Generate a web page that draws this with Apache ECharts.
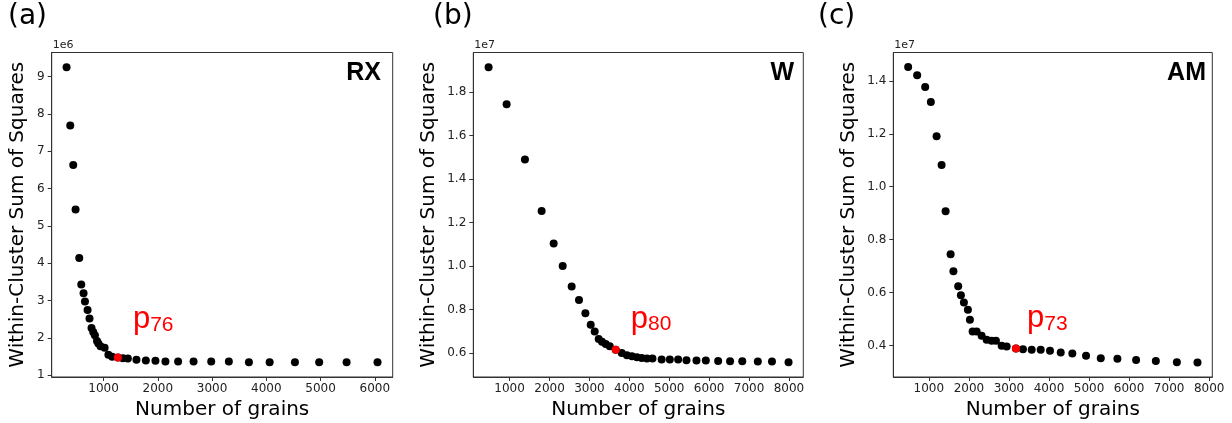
<!DOCTYPE html>
<html>
<head>
<meta charset="utf-8">
<script src="https://cdn.jsdelivr.net/npm/echarts@6/dist/echarts.min.js"></script>
<style>
  html, body { margin: 0; padding: 0; background: #fff; }
  #main { width: 1232px; height: 423px; }
</style>
</head>
<body>
<div id="main"></div>
<script>
// (a) RX  -- y in units of 1e6
var rxGrains = [319, 387, 442, 485, 553, 590, 632, 658, 706, 742, 779, 810, 841, 880, 905, 945, 1020, 1090, 1160, 1265,
    1357, 1449, 1607, 1780, 1957, 2141, 2375, 2660, 2985, 3310, 3680, 4062, 4528, 4975, 5480, 6050];
var rxWcss = [9.25, 7.69, 6.63, 5.44, 4.14, 3.43, 3.20, 2.98, 2.75, 2.52, 2.27, 2.16, 2.07, 1.92, 1.85, 1.78, 1.74, 1.55, 1.50, 1.48,
    1.46, 1.45, 1.42, 1.40, 1.39, 1.37, 1.37, 1.37, 1.37, 1.37, 1.35, 1.35, 1.35, 1.35, 1.35, 1.35];
var rxKnee = 19;

// (b) W  -- y in units of 1e7
var wGrains = [473, 925, 1384, 1803, 2104, 2330, 2555, 2739, 2899, 3032, 3132, 3233, 3316, 3408, 3509, 3659,
    3810, 3940, 4065, 4190, 4310, 4440, 4580, 4810, 5015, 5223, 5432, 5683, 5917, 6226, 6525, 6830, 7220, 7575, 7990];
var wWcss = [1.915, 1.745, 1.490, 1.253, 1.104, 1.000, 0.906, 0.844, 0.783, 0.729, 0.698, 0.664, 0.651, 0.641, 0.630, 0.615,
    0.600, 0.589, 0.584, 0.580, 0.577, 0.574, 0.574, 0.569, 0.569, 0.569, 0.566, 0.565, 0.565, 0.563, 0.561, 0.561, 0.560, 0.560, 0.557];
var wKnee = 15;

// (c) AM  -- y in units of 1e7
var amGrains = [483, 708, 908, 1050, 1193, 1318, 1418, 1543, 1613, 1733, 1800, 1875, 1975, 2025, 2093, 2193, 2318, 2443, 2568, 2675,
    2818, 2943, 3175, 3350, 3568, 3793, 4025, 4293, 4583, 4925, 5293, 5708, 6175, 6668, 7193, 7708];
var amWcss = [1.452, 1.421, 1.377, 1.320, 1.191, 1.082, 0.907, 0.745, 0.681, 0.624, 0.590, 0.562, 0.535, 0.497, 0.453, 0.453, 0.437, 0.422, 0.418, 0.418,
    0.399, 0.396, 0.389, 0.386, 0.384, 0.384, 0.380, 0.374, 0.370, 0.361, 0.352, 0.350, 0.345, 0.341, 0.337, 0.336];
var amKnee = 22;

// tick labels
var rxXTicks = [1000, 2000, 3000, 4000, 5000, 6000];
var rxYTicks = [1, 2, 3, 4, 5, 6, 7, 8, 9];
var wXTicks = [1000, 2000, 3000, 4000, 5000, 6000, 7000, 8000];
var wYTicks = [0.6, 0.8, 1.0, 1.2, 1.4, 1.6, 1.8];
var amXTicks = [1000, 2000, 3000, 4000, 5000, 6000, 7000, 8000];
var amYTicks = [0.4, 0.6, 0.8, 1.0, 1.2, 1.4];

var panelLetters = ['(a)', '(b)', '(c)'];
var panelNames = ['RX', 'W', 'AM'];
var kneeLabels = ['76', '80', '73'];
var offsetTexts = ['1e6', '1e7', '1e7'];

var myChart = echarts.init(document.getElementById('main'), null, {renderer: 'canvas'});

// layout of the three panels (px)
var panels = [
    {left: 51.7, top: 52.5, width: 341, height: 324.5, xMin: 45, xMax: 6330, yMin: 0.955, yMax: 9.645,
        xs: rxGrains, ys: rxWcss, knee: rxKnee, xt: rxXTicks, yt: rxYTicks, dec: 0,
        letterX: 8, nameRight: 381, labelOff: [19, -49], yNameGap: 24},
    {left: 473.3, top: 52.5, width: 330, height: 324.5, xMin: 90, xMax: 8360, yMin: 0.489, yMax: 1.983,
        xs: wGrains, ys: wWcss, knee: wKnee, xt: wXTicks, yt: wYTicks, dec: 1,
        letterX: 433, nameRight: 794, labelOff: [19, -42], yNameGap: 35},
    {left: 893.3, top: 52.5, width: 319, height: 324.5, xMin: 112, xMax: 8078, yMin: 0.281, yMax: 1.507,
        xs: amGrains, ys: amWcss, knee: amKnee, xt: amXTicks, yt: amYTicks, dec: 1,
        letterX: 818, nameRight: 1206, labelOff: [15, -41], yNameGap: 35}
];

var grids = [], xAxes = [], yAxes = [], series = [], graphics = [];
var tickColor = '#222';

panels.forEach(function (p, i) {
    grids.push({left: p.left, top: p.top, width: p.width, height: p.height,
        outerBoundsMode: 'none', containLabel: false,
        show: true, borderColor: '#333', borderWidth: 1, backgroundColor: 'transparent'});

    xAxes.push({
        type: 'value', gridIndex: i, min: p.xMin, max: p.xMax,
        name: 'Number of grains', nameLocation: 'middle', nameGap: 23,
        nameTextStyle: {fontFamily: 'DejaVu Sans', fontSize: 20, color: '#000'},
        axisLine: {show: true, onZero: false, lineStyle: {color: '#333', width: 1}},
        axisTick: {show: true, inside: false, length: 4, lineStyle: {color: '#333'}, customValues: p.xt},
        axisLabel: {show: true, customValues: p.xt, fontFamily: 'DejaVu Sans', fontSize: 12, color: tickColor, margin: 6,
            formatter: function (v) { return String(Math.round(v)); }},
        splitLine: {show: false}
    });

    yAxes.push({
        type: 'value', gridIndex: i, min: p.yMin, max: p.yMax,
        name: 'Within-Cluster Sum of Squares', nameLocation: 'middle', nameGap: p.yNameGap, nameRotate: 90,
        nameTextStyle: {fontFamily: 'DejaVu Sans', fontSize: 20, color: '#000'},
        axisLine: {show: true, onZero: false, lineStyle: {color: '#333', width: 1}},
        axisTick: {show: true, inside: false, length: 4, lineStyle: {color: '#333'}, customValues: p.yt},
        axisLabel: {show: true, customValues: p.yt, fontFamily: 'DejaVu Sans', fontSize: 12, color: tickColor, margin: 7,
            formatter: function (v) { return Number(v).toFixed(p.dec); }},
        splitLine: {show: false}
    });

    var pts = p.xs.map(function (x, k) { return [x, p.ys[k]]; });

    series.push({
        type: 'scatter', xAxisIndex: i, yAxisIndex: i, symbolSize: 8, silent: true,
        itemStyle: {color: '#000', opacity: 1}, data: pts, z: 2
    });

    // knee point, red, with its p label
    series.push({
        type: 'scatter', xAxisIndex: i, yAxisIndex: i, symbolSize: 8, silent: true,
        itemStyle: {color: '#ff0000', opacity: 1}, data: [pts[p.knee]], z: 3,
        label: {
            show: true, position: p.labelOff,
            formatter: '{p|p}{s|' + kneeLabels[i] + '}',
            rich: {
                p: {fontFamily: 'Liberation Sans', fontSize: 31, color: '#ff0000', lineHeight: 31},
                s: {fontFamily: 'Liberation Sans', fontSize: 21, color: '#ff0000', lineHeight: 4, verticalAlign: 'bottom'}
            }
        }
    });

    // panel letter
    graphics.push({type: 'text', x: p.letterX, y: 3,
        style: {text: panelLetters[i], font: '28px "DejaVu Sans"', fill: '#000'}});
    // offset text (1e6 / 1e7)
    graphics.push({type: 'text', x: p.left + 1, y: p.top - 2,
        style: {text: offsetTexts[i], font: '11px "DejaVu Sans"', fill: tickColor, verticalAlign: 'bottom'}});
    // sample name
    graphics.push({type: 'text', x: p.nameRight, y: 86,
        style: {text: panelNames[i], font: 'bold 25px "Liberation Sans"', fill: '#000', align: 'right', verticalAlign: 'bottom'}});
});

myChart.setOption({
    animation: false,
    backgroundColor: '#fff',
    grid: grids,
    xAxis: xAxes,
    yAxis: yAxes,
    series: series,
    graphic: graphics
});
</script>
</body>
</html>
